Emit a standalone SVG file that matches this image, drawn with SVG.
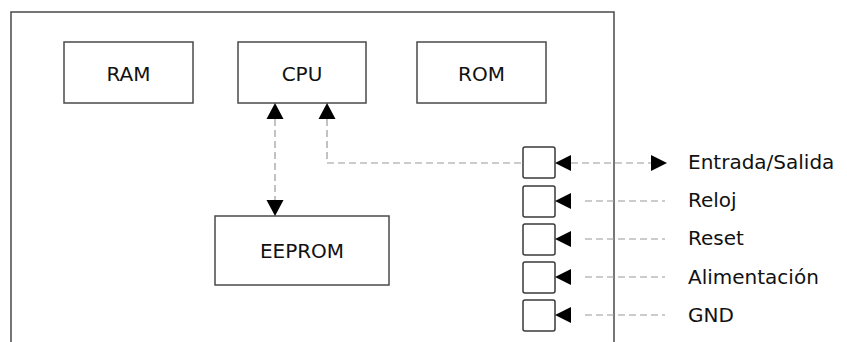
<svg xmlns="http://www.w3.org/2000/svg" width="847" height="342" viewBox="0 0 847 342">
  <style>
    .box { fill: #ffffff; stroke: #4a4a4a; stroke-width: 1.5; }
    .pin { fill: #ffffff; stroke: #3a3a3a; stroke-width: 1.5; }
    .frame { fill: none; stroke: #4a4a4a; stroke-width: 1.5; }
    .lbl { font-family: "DejaVu Sans", Verdana, sans-serif; font-size: 20px; fill: #111111; }
    .mid { text-anchor: middle; }
    .dash { fill: none; stroke: #9a9a9a; stroke-width: 1.2; stroke-dasharray: 7 4; }
    .head { fill: #000000; }
  </style>

  <rect width="847" height="342" fill="#ffffff"/>

  <!-- board outline, open at the bottom -->
  <path class="frame" d="M11,345 V12 H614 V345"/>

  <g id="ram">
    <rect class="box" x="64" y="42" width="129" height="61"/>
    <text class="lbl mid" x="128.5" y="81">RAM</text>
  </g>
  <g id="cpu">
    <rect class="box" x="238" y="42" width="128" height="61"/>
    <text class="lbl mid" x="302" y="81">CPU</text>
  </g>
  <g id="rom">
    <rect class="box" x="417" y="42" width="129" height="61"/>
    <text class="lbl mid" x="481.5" y="81">ROM</text>
  </g>
  <g id="eeprom">
    <rect class="box" x="215" y="216" width="174" height="69"/>
    <text class="lbl mid" x="302" y="258">EEPROM</text>
  </g>

  <g id="pins">
    <rect class="pin" x="523" y="147" width="32" height="31" rx="2"/>
    <rect class="pin" x="523" y="186" width="32" height="31" rx="2"/>
    <rect class="pin" x="523" y="224" width="32" height="31" rx="2"/>
    <rect class="pin" x="523" y="262" width="32" height="31" rx="2"/>
    <rect class="pin" x="523" y="300" width="32" height="31" rx="2"/>
  </g>

  <g id="connectors">
    <!-- CPU <-> EEPROM -->
    <line class="dash" x1="275" y1="119" x2="275" y2="200" stroke-dasharray="10 4"/>
    <polygon class="head" points="275,103 283.5,119 266.5,119"/>
    <polygon class="head" points="275,216 283.5,200 266.5,200"/>

    <!-- CPU <-> I/O pin -->
    <path class="dash" d="M327,119 V163 H523"/>
    <polygon class="head" points="327,103 335.5,119 318.5,119"/>

    <!-- external signals into the pins -->
    <line class="dash" x1="571" y1="163" x2="651" y2="163"/>
    <polygon class="head" points="555,163 571,155 571,171"/>
    <polygon class="head" points="667,163 651,155 651,171"/>

    <line class="dash" x1="585" y1="201" x2="665" y2="201"/>
    <polygon class="head" points="555,201 571,193 571,209"/>

    <line class="dash" x1="585" y1="239" x2="665" y2="239"/>
    <polygon class="head" points="555,239 571,231 571,247"/>

    <line class="dash" x1="585" y1="277" x2="665" y2="277"/>
    <polygon class="head" points="555,277 571,269 571,285"/>

    <line class="dash" x1="585" y1="315" x2="665" y2="315"/>
    <polygon class="head" points="555,315 571,307 571,323"/>
  </g>

  <g id="labels">
    <text class="lbl" x="688" y="169">Entrada/Salida</text>
    <text class="lbl" x="688" y="207">Reloj</text>
    <text class="lbl" x="688" y="245">Reset</text>
    <text class="lbl" x="688" y="284">Alimentación</text>
    <text class="lbl" x="688" y="322">GND</text>
  </g>
</svg>
